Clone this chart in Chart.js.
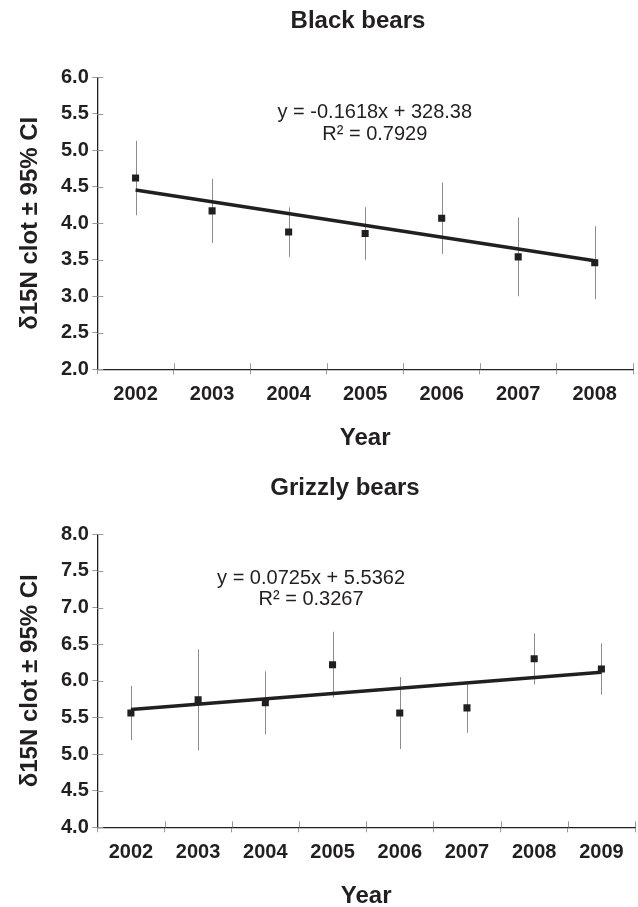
<!DOCTYPE html>
<html>
<head>
<meta charset="utf-8">
<script src="https://cdn.jsdelivr.net/npm/chart.js@4.4.1/dist/chart.umd.min.js"></script>
<style>
  html, body { margin:0; padding:0; background:#fff; overflow:hidden; }
  body { width:638px; height:907px; position:relative; }
  .panel { position:absolute; left:0; }
  #blackWrap { top:0; width:638px; height:460px; }
  #grizzlyWrap { top:460px; width:640px; height:455px; }
</style>
</head>
<body>
<div class="panel" id="blackWrap"><canvas id="blackChart"></canvas></div>
<div class="panel" id="grizzlyWrap"><canvas id="grizzlyChart"></canvas></div>
<script>
// Stable isotope (d15N) trend per year, black and grizzly bears
const INK = '#231f20';
const TICK_GREY = '#9a9a9a';
const BAR_GREY = '#8c8c8c';
const FONT = "'Liberation Sans', Arial, Helvetica, sans-serif";
const yTitle = 'δ15N clot ± 95% CI';

// black bears
const blackYears = ['2002', '2003', '2004', '2005', '2006', '2007', '2008'];
const blackMeans = [4.62, 4.17, 3.88, 3.86, 4.07, 3.54, 3.46];
const blackCI    = [0.51, 0.44, 0.34, 0.36, 0.49, 0.54, 0.50];
const blackSlope = -0.1618, blackIntercept = 328.38, blackR2 = 0.7929; // x = year

// grizzly bears
const grizzlyYears = ['2002', '2003', '2004', '2005', '2006', '2007', '2008', '2009'];
const grizzlyMeans = [5.56, 5.74, 5.70, 6.22, 5.56, 5.63, 6.30, 6.16];
const grizzlyCI    = [0.37, 0.69, 0.43, 0.45, 0.49, 0.34, 0.35, 0.35];
const grizzlySlope = 0.0725, grizzlyIntercept = 5.5362, grizzlyR2 = 0.3267; // x = 1..n

function eqLines(slope, intercept, r2) {
  const sign = intercept < 0 ? '-' : '+';
  return ['y = ' + slope + 'x ' + sign + ' ' + Math.abs(intercept), 'R² = ' + r2];
}

// error bars, inner halves of the axis ticks, panel title and trend equation
function makeExtras(cfg) {
  return {
    id: 'extras',
    beforeDatasetsDraw(chart) {
      const {ctx} = chart;
      const xs = chart.scales.x, ys = chart.scales.y;
      ctx.save();
      ctx.strokeStyle = BAR_GREY;
      ctx.lineWidth = 1;
      cfg.means.forEach((m, i) => {
        const px = Math.round(xs.getPixelForValue(i)) + 0.5;
        ctx.beginPath();
        ctx.moveTo(px, ys.getPixelForValue(m + cfg.ci[i]));
        ctx.lineTo(px, ys.getPixelForValue(m - cfg.ci[i]));
        ctx.stroke();
      });
      ctx.restore();
    },
    afterDraw(chart) {
      const {ctx, chartArea: a} = chart;
      const xs = chart.scales.x, ys = chart.scales.y;
      ctx.save();
      ctx.strokeStyle = TICK_GREY;
      ctx.lineWidth = 1;
      ys.ticks.forEach((t, i) => {
        const py = Math.round(ys.getPixelForTick(i)) + 0.5;
        ctx.beginPath(); ctx.moveTo(a.left, py); ctx.lineTo(a.left + 6, py); ctx.stroke();
      });
      for (let i = 1; i <= xs.ticks.length; i++) {
        const px = Math.round(xs.getPixelForValue(i - 0.5)) + 0.5;
        ctx.beginPath(); ctx.moveTo(px, a.bottom); ctx.lineTo(px, a.bottom - 6); ctx.stroke();
      }
      ctx.fillStyle = INK;
      ctx.textAlign = 'center';
      ctx.textBaseline = 'middle';
      ctx.font = 'bold 24px ' + FONT;
      ctx.fillText(cfg.title, cfg.titleX, cfg.titleY);
      ctx.font = '20px ' + FONT;
      const cx = a.left + cfg.labelX * (a.right - a.left);
      const cy = ys.getPixelForValue(cfg.labelY);
      cfg.lines.forEach((s, k) => ctx.fillText(s, cx, cy + k * cfg.gap));
      ctx.restore();
    }
  };
}

function buildChart(canvasId, cfg) {
  const n = cfg.years.length;
  const trend = cfg.years.map((yr, i) => (i === 0 || i === n - 1) ? cfg.fitAt(i) : null);
  const bold = size => ({ family: FONT, size: size, weight: 'bold', lineHeight: 1.2 });
  return new Chart(document.getElementById(canvasId), {
    type: 'line',
    data: {
      labels: cfg.years,
      datasets: [
        { data: cfg.means, showLine: false, pointStyle: 'rect', pointRadius: 5,
          pointBackgroundColor: INK, pointBorderWidth: 0, order: 0 },
        { data: trend, spanGaps: true, borderColor: INK, borderWidth: 3.5,
          pointRadius: 0, tension: 0, order: 1 }
      ]
    },
    options: {
      responsive: true,
      maintainAspectRatio: false,
      animation: false,
      layout: { padding: { top: cfg.plotTop, left: 0, right: 0, bottom: 0 } },
      plugins: {
        legend: { display: false },
        tooltip: { enabled: false },
        title: { display: false }
      },
      scales: {
        x: {
          type: 'category',
          offset: true,
          grid: { offset: true, drawOnChartArea: false, drawTicks: true, tickLength: 5, color: TICK_GREY, lineWidth: 1 },
          border: { display: true, color: INK, width: 1.3 },
          ticks: { color: INK, font: bold(20), padding: cfg.xTickPad, maxRotation: 0, autoSkip: false },
          title: { display: true, text: 'Year', color: INK, font: bold(24), padding: { top: 0, bottom: cfg.yearPad } },
          afterFit: s => { s.height = cfg.xHeight; }
        },
        y: {
          min: cfg.yMin,
          max: cfg.yMax,
          grid: { drawOnChartArea: false, drawTicks: true, tickLength: 5, color: TICK_GREY, lineWidth: 1 },
          border: { display: true, color: INK, width: 1.3 },
          ticks: { stepSize: 0.5, padding: 3.5, color: INK, font: bold(20), callback: v => v.toFixed(1) },
          title: { display: true, text: yTitle, color: INK, font: bold(24), padding: { top: 15.6, bottom: 0 } },
          afterFit: s => { s.width = 97.3; }
        }
      }
    },
    plugins: [makeExtras(cfg)]
  });
}

buildChart('blackChart', {
  title: 'Black bears', titleX: 358, titleY: 21,
  years: blackYears, means: blackMeans, ci: blackCI,
  fitAt: i => blackSlope * Number(blackYears[i]) + blackIntercept,
  lines: eqLines(blackSlope, blackIntercept, blackR2),
  yMin: 2, yMax: 6,
  plotTop: 77.3,
  xHeight: 90.7, xTickPad: 7.7, yearPad: 6.9,
  labelX: 0.518, labelY: 5.515, gap: 21.3
});

buildChart('grizzlyChart', {
  title: 'Grizzly bears', titleX: 345, titleY: 28.6,
  years: grizzlyYears, means: grizzlyMeans, ci: grizzlyCI,
  fitAt: i => grizzlySlope * (i + 1) + grizzlyIntercept,
  lines: eqLines(grizzlySlope, grizzlyIntercept, grizzlyR2),
  yMin: 4, yMax: 8,
  plotTop: 74.3,
  xHeight: 87.7, xTickPad: 8.4, yearPad: 3.9,
  labelX: 0.3975, labelY: 7.4, gap: 21.7
});
</script>
</body>
</html>
